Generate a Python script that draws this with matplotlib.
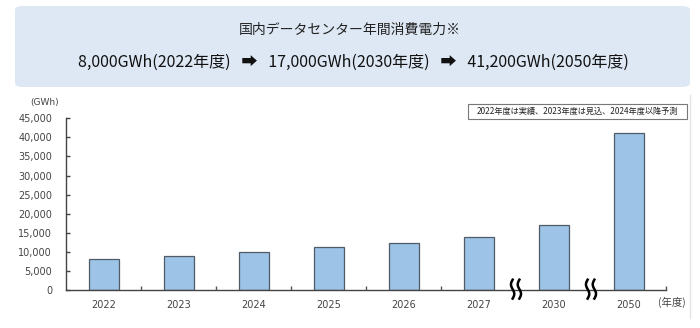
import numpy as np
import matplotlib
matplotlib.use('Agg')
import matplotlib.pyplot as plt
from matplotlib.patches import FancyBboxPatch, Rectangle
import matplotlib.transforms as mtransforms

JP = ['Noto Sans CJK JP', 'DejaVu Sans']

# data (GWh)
years = ['2022', '2023', '2024', '2025', '2026', '2027', '2030', '2050']
power = [8000, 9000, 9900, 11200, 12200, 13900, 17000, 41200]
yticks = [0, 5000, 10000, 15000, 20000, 25000, 30000, 35000, 40000, 45000]
breaks_after = [5, 6]   # axis break between 2027|2030 and 2030|2050

title = '国内データセンター年間消費電力※'
summary = '8,000GWh(2022年度)   ➡   17,000GWh(2030年度)   ➡   41,200GWh(2050年度)'
note = '2022年度は実績、2023年度は見込、2024年度以降予測'

W, H = 700, 328
fig = plt.figure(figsize=(W/100, H/100), dpi=100)

# header box
box = FancyBboxPatch((15/W, 1 - 87/H), 675/W, 81/H,
                     boxstyle='round,pad=0,rounding_size=0.012',
                     transform=fig.transFigure, facecolor='#dde8f4',
                     edgecolor='none', zorder=0)
fig.patches.append(box)
fig.text(350/W, 1 - 30/H, title, family=JP, fontsize=10, color='#222222',
         ha='center', va='center')
fig.text(353/W, 1 - 62/H, summary, family=JP, fontsize=11.5, color='#111111',
         ha='center', va='center')

# faint slide border on right
fig.add_artist(plt.Line2D([690/W, 690/W], [1 - 318/H, 1 - 95/H],
                          transform=fig.transFigure, color='#e4e4e4', lw=1))

ax = fig.add_axes([66/W, 1 - 290/H, 600/W, 171.7/H])
x = np.arange(len(years))
ax.bar(x, power, width=0.4, color='#9dc3e6', edgecolor='#4f5b66', linewidth=0.9,
       zorder=2)
ax.set_xlim(-0.5, len(years) - 0.5)
ax.set_ylim(0, 45000)
ax.set_yticks(yticks)
ax.set_yticklabels([f'{v:,}' for v in yticks])
ax.set_xticks(x)
ax.set_xticklabels(years)
ax.tick_params(axis='x', length=0, pad=7, labelsize=7, labelcolor='#444444')
ax.tick_params(axis='y', direction='in', length=3, width=1, color='#444444',
               pad=10, labelsize=7, labelcolor='#444444')
ax.set_xticks([i + 0.5 for i in range(len(years)) if i not in breaks_after],
              minor=True)
ax.tick_params(axis='x', which='minor', direction='in', length=3, width=1,
               color='#555555')
for s in ['top', 'right']:
    ax.spines[s].set_visible(False)
for s in ['left', 'bottom']:
    ax.spines[s].set_color('#444444')
    ax.spines[s].set_linewidth(1)

# break marks (two squiggles)
trans = mtransforms.blended_transform_factory(ax.transData, ax.transAxes)
tt = np.linspace(0, 1, 40)
for b in breaks_after:
    xc = b + 0.5
    for dx in (-0.045, 0.045):
        xs = xc + dx + 0.022 * np.sin(tt * 2 * np.pi)
        ys = -0.05 + 0.11 * tt
        ax.plot(xs, ys, color='black', lw=1.8, transform=trans, clip_on=False,
                zorder=5)

fig.text(45/W, 1 - 102/H, '(GWh)', fontsize=6.5, color='#444444',
         ha='center', va='center')
fig.text(672/W, 1 - 302/H, '(年度)', family=JP, fontsize=7.5, color='#444444',
         ha='center', va='center')

# note box
fig.patches.append(Rectangle((468/W, 1 - 119/H), 219/W, 15/H,
                             transform=fig.transFigure, facecolor='white',
                             edgecolor='#777777', lw=0.8))
fig.text(577.5/W, 1 - 111.5/H, note, family=JP, fontsize=5.9, color='#222222',
         ha='center', va='center')

fig.savefig('out.png', dpi=100)
